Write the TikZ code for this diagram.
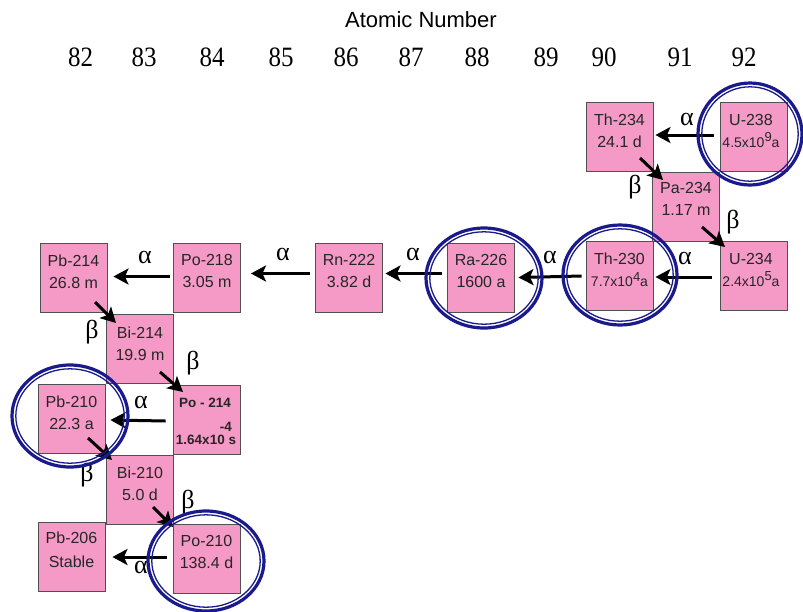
\documentclass[tikz,border=0pt]{standalone}
\usepackage{fontspec}
\setmainfont{Liberation Sans}
\newfontfamily\timesf{Liberation Serif}
\usetikzlibrary{arrows.meta,calc}
\definecolor{boxpink}{HTML}{F59AC6}
\definecolor{ringblue}{HTML}{1A1A8C}
\definecolor{boxedge}{HTML}{505050}
\newcommand{\smallsci}[1]{{\fontsize{14}{21}\selectfont #1}}
\newcommand{\bigsup}[1]{\raisebox{5.5pt}{\fontsize{13}{13}\selectfont #1}}
\begin{document}
\begin{tikzpicture}[x=1pt,y=-1pt,
  nuc/.style={draw=boxedge, line width=0.9pt, fill=boxpink, minimum width=67pt, minimum height=69pt, inner sep=0pt},
  nuctxt/.style={align=center, font=\fontsize{16}{22}\selectfont, anchor=north, inner sep=0pt, text=black!85},
  boldtxt/.style={font=\bfseries\fontsize{13.5}{16}\selectfont, inner sep=0pt, text=black!85},
  decay/.style={line width=3pt, -{Stealth[length=15pt,width=16pt,inset=3.5pt]}},
  greek/.style={font=\timesf\fontsize{26}{26}\selectfont, inner sep=0pt},
  znum/.style={font=\timesf\fontsize{25}{25}\selectfont, inner sep=0pt},
  ringout/.style={draw=ringblue, line width=3.2pt},
  ringin/.style={draw=ringblue, line width=1.3pt}]
\fill[white] (0,0) rectangle (803,611);
\useasboundingbox (0,0) rectangle (803,611);

% header
\node[font=\fontsize{22}{22}\selectfont, inner sep=0pt] (title) at (421,20) {Atomic Number};
\foreach \z/\xx in {82/80.5,83/144,84/212,85/281,86/346,87/411,88/477,89/546,90/604,91/680,92/744}
  \node[znum] (z\z) at (\xx,57.5) {\scalebox{1}[1.12]{\z}};

% boxes
\node[nuc] (U238)  at (754,137) {};
\node[nuc] (Th234) at (619.5,137) {};
\node[nuc] (Pa234) at (686,206.5) {};
\node[nuc] (U234)  at (754,276) {};
\node[nuc] (Th230) at (619.5,276) {};
\node[nuc] (Ra226) at (481,277.5) {};
\node[nuc] (Rn222) at (349,277.5) {};
\node[nuc] (Po218) at (207,277.5) {};
\node[nuc] (Pb214) at (73.5,277.5) {};
\node[nuc] (Bi214) at (140,348.5) {};
\node[nuc] (Po214) at (206.5,420) {};
\node[nuc] (Pb210) at (71.5,419) {};
\node[nuc] (Bi210) at (140,489.5) {};
\node[nuc] (Po210) at (206.5,558.5) {};
\node[nuc] (Pb206) at (71.5,557) {};

% box texts
\node[nuctxt] (U238t)  at ([shift={(-3,12)}]U238.north)  {U-238\\\smallsci{4.5x10\bigsup{9}a}};
\node[nuctxt] (Th234t) at ([shift={(0,12)}]Th234.north) {Th-234\\24.1 d};
\node[nuctxt] (Pa234t) at ([shift={(0,11)}]Pa234.north) {Pa-234\\1.17 m};
\node[nuctxt] (U234t)  at ([shift={(-3,12)}]U234.north)  {U-234\\\smallsci{2.4x10\bigsup{5}a}};
\node[nuctxt] (Th230t) at ([shift={(0,12)}]Th230.north) {Th-230\\\smallsci{7.7x10\bigsup{4}a}};
\node[nuctxt] (Ra226t) at ([shift={(0,12)}]Ra226.north) {Ra-226\\1600 a};
\node[nuctxt] (Rn222t) at ([shift={(0,12)}]Rn222.north) {Rn-222\\3.82 d};
\node[nuctxt] (Po218t) at ([shift={(0,12)}]Po218.north) {Po-218\\3.05 m};
\node[nuctxt] (Pb214t) at ([shift={(0,12)}]Pb214.north) {Pb-214\\26.8 m};
\node[nuctxt] (Bi214t) at ([shift={(0,13)}]Bi214.north) {Bi-214\\19.9 m};
\node[nuctxt] (Pb210t) at ([shift={(0,12)}]Pb210.north) {Pb-210\\22.3 a};
\node[nuctxt] (Bi210t) at ([shift={(0,12)}]Bi210.north) {Bi-210\\5.0 d};
\node[nuctxt] (Po210t) at ([shift={(0,12)}]Po210.north) {Po-210\\138.4 d};
\node[nuctxt, font=\fontsize{16}{24}\selectfont] (Pb206t) at ([shift={(0,10)}]Pb206.north) {Pb-206\\Stable};
\node[boldtxt] (Po214a) at (205,403) {Po - 214};
\node[boldtxt, anchor=east] (Po214b) at (232,427) {-4};
\node[boldtxt] (Po214c) at (206,440) {1.64x10 s};

% alpha decays
\draw[decay] ([shift={(-6.5,-2)}]U238.west) -- ([shift={(2,-2)}]Th234.east);
\draw[decay] ([shift={(-8,1)}]U234.west) -- ([shift={(2,1)}]Th230.east);
\draw[decay] ([shift={(-4,0)}]Th230.west) -- ([shift={(3.5,0)}]Ra226.east);
\draw[decay] ([shift={(-5.5,-4)}]Ra226.west) -- ([shift={(2.5,-4)}]Rn222.east);
\draw[decay] ([shift={(-5.5,-4)}]Rn222.west) -- ([shift={(10,-4)}]Po218.east);
\draw[decay] ([shift={(-3.5,-1)}]Po218.west) -- ([shift={(6,-1)}]Pb214.east);
\draw[decay] ([shift={(-7,1)}]Po214.west) -- ([shift={(5,1)}]Pb210.east);
\draw[decay] ([shift={(-6,-1.5)}]Po210.west) -- ([shift={(7,0)}]Pb206.east);

% beta decays
\draw[decay] ($(Th234.center)+(20.5,21)$) -- ($(Pa234.center)+(-23,-26.5)$);
\draw[decay] ($(Pa234.center)+(16,20.5)$) -- ($(U234.center)+(-29,-29)$);
\draw[decay] ($(Pb214.center)+(21.5,24.5)$) -- ($(Bi214.center)+(-24,-25.5)$);
\draw[decay] ($(Bi214.center)+(20,23.5)$) -- ($(Po214.center)+(-23.5,-28)$);
\draw[decay] ($(Pb210.center)+(16.5,19)$) -- ($(Bi210.center)+(-28,-29.5)$);
\draw[decay] ($(Bi210.center)+(13,17.5)$) -- ($(Po210.center)+(-33.5,-31.5)$);

% labels
\foreach \n/\p in {a1/{(687,119)},a2/{(685,258)},a3/{(550,257)},a4/{(413,254)},a5/{(283,254)},a6/{(145,257)},a7/{(141,402)},a8/{(141,567)}}
  \node[greek] (\n) at \p {α};
\foreach \n/\p in {b1/{(635,187)},b2/{(733,222)},b3/{(92,332)},b4/{(193,363)},b5/{(87,475)},b6/{(188,502)}}
  \node[greek] (\n) at \p {β};

% rings
\foreach \c/\rx/\ry in {{(750,134)}/52/51,{(620,275)}/57/50,{(484,278)}/58/50,{(70,416)}/58/51,{(206,561)}/58/50}{
  \draw[ringout] \c ellipse [x radius=\rx pt, y radius=\ry pt];
  \draw[ringin] \c ellipse [x radius=\rx pt-3.8pt, y radius=\ry pt-3.8pt];
}
\end{tikzpicture}
\end{document}
